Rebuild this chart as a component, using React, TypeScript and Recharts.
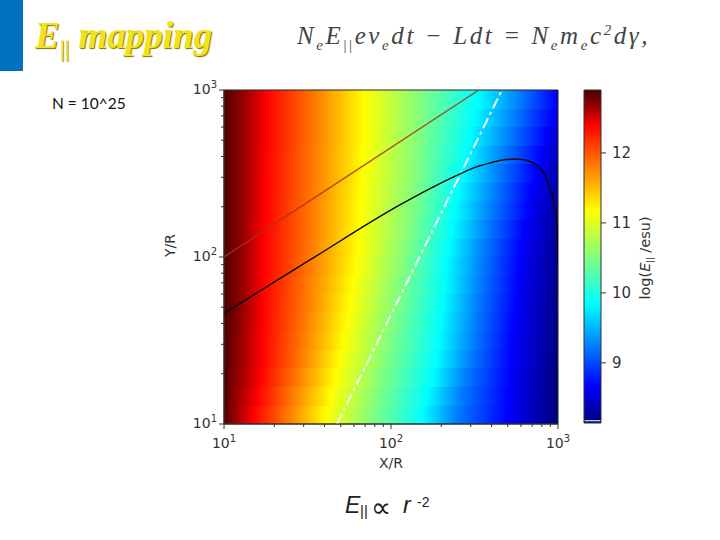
import { ComposedChart, Line, XAxis, YAxis, ReferenceArea } from "recharts"

// log-log axes of the map
const xTicks = [10, 20, 30, 40, 50, 60, 70, 80, 90, 100, 200, 300, 400, 500, 600, 700, 800, 900, 1000]
const yTicks = xTicks
const cbTicks = [9, 10, 11, 12]

// horizontal bands of the map, bottom to top (Y/R)
const bandEdges = [10, 12.9, 16.7, 21.5, 27.8, 35.9, 46.4, 59.9, 77.4, 100, 129, 167, 215, 278, 359, 464, 599, 774, 1000]

// X/R where each colour is reached in each band
const xDarkRed = [11.3, 11.5, 11.8, 12.1, 12.1, 12.3, 12.5, 12.5, 12.5, 12.5, 12.5, 12.5, 12.5, 12.5, 12.5, 12.5, 12.5, 12.5]
const xRed = [15.1, 15.8, 16.4, 16.9, 16.9, 17.1, 17.1, 17.1, 17.4, 17.4, 17.4, 17.6, 17.6, 17.8, 17.8, 18.1, 18.1, 18.1]
const xOrange = [24.9, 26.2, 28.1, 29.7, 30.5, 31.4, 32.3, 32.7, 33.7, 34.1, 34.6, 34.6, 35.1, 35.6, 35.6, 36.1, 36.1, 36.1]
const xYellow = [40.8, 43.7, 46.8, 49.5, 52.3, 54.5, 56.8, 59.2, 61.7, 63.5, 64.3, 65.2, 66.1, 68.0, 68.0, 68.9, 68.9, 68.9]
const xGreen = [78.0, 82.5, 88.3, 93.3, 98.6, 103, 109, 113, 120, 125, 130, 134, 139, 143, 145, 149, 151, 151]
const xCyan = [155, 164, 176, 186, 194, 199, 205, 211, 213, 222, 232, 242, 252, 266, 281, 297, 314, 332]
const xMidBlue = [245, 259, 277, 297, 310, 318, 327, 337, 346, 356, 376, 397, 414, 437, 469, 509, 546, 584]
const xBlue = [495, 502, 516, 524, 530, 546, 561, 576, 584, 600, 625, 661, 689, 728, 791, 859, 921, 973]
const rightEdge = ["#00007c", "#00007c", "#00007e", "#000080", "#000082", "#000084", "#000088", "#00008c", "#000090", "#000094", "#00009a", "#0000a0", "#0000a8", "#0000b0", "#0000bc", "#0000cc", "#0000dc", "#0000ec"]

const bandStops = [
  { color: "#8b0000", xs: xDarkRed },
  { color: "#ff0000", xs: xRed },
  { color: "#ff8000", xs: xOrange },
  { color: "#ffff00", xs: xYellow },
  { color: "#80ff80", xs: xGreen },
  { color: "#00ffff", xs: xCyan },
  { color: "#0080ff", xs: xMidBlue },
  { color: "#0000ff", xs: xBlue },
]

// colour bar
const cbMin = 8.14
const cbMax = 12.9
const cbValues = [8.14, 8.67, 9.25, 9.85, 10.5, 11.17, 11.8, 12.4, 12.7, 12.9]
const cbColors = ["#00007c", "#0000ff", "#0080ff", "#00ffff", "#80ff80", "#ffff00", "#ff8000", "#ff0000", "#8b0000", "#4a0000"]

// curves
const redLine = [
  { x: 10, y: 100 },
  { x: 336, y: 1000 },
]
const whiteLine = [
  { x: 47.5, y: 10 },
  { x: 462, y: 1000 },
]
const blackLine = [
  { x: 10, y: 46 },
  { x: 32.7, y: 96 },
  { x: 113, y: 205 },
  { x: 196, y: 275 },
  { x: 248, y: 308 },
  { x: 310, y: 341 },
  { x: 392, y: 366 },
  { x: 469, y: 381 },
  { x: 568, y: 386 },
  { x: 661, y: 377 },
  { x: 748, y: 354 },
  { x: 813, y: 323 },
  { x: 871, y: 281 },
  { x: 921, y: 235 },
  { x: 960, y: 191 },
  { x: 986, y: 145 },
  { x: 1000, y: 92 },
]

const tickColor = "#333"
const tickFont = "'DejaVu Sans', sans-serif"

function isDecade(v: number) {
  return Math.abs(Math.log10(v) - Math.round(Math.log10(v))) < 1e-6
}

function XTick({ x, y, payload }: any) {
  const major = isDecade(payload.value)
  return (
    <g>
      <line x1={x} x2={x} y1={y} y2={y + (major ? 5 : 3)} stroke={tickColor} />
      {major && (
        <text x={x} y={y + 24} textAnchor="middle" fontFamily={tickFont} fontSize={14} fill={tickColor}>
          10<tspan dy={-6} fontSize={10}>{Math.round(Math.log10(payload.value))}</tspan>
        </text>
      )}
    </g>
  )
}

function YTick({ x, y, payload }: any) {
  const major = isDecade(payload.value)
  return (
    <g>
      <line x1={x} x2={x - (major ? 5 : 3)} y1={y} y2={y} stroke={tickColor} />
      {major && (
        <text x={x - 7} y={y + 4} textAnchor="end" fontFamily={tickFont} fontSize={14} fill={tickColor}>
          10<tspan dy={-6} fontSize={10}>{Math.round(Math.log10(payload.value))}</tspan>
        </text>
      )}
    </g>
  )
}

function CbLabel() {
  return (
    <text transform="translate(650 258) rotate(-90)" textAnchor="middle" fontFamily={tickFont} fontSize={14.5} fill={tickColor}>
      log(<tspan fontStyle="italic">E</tspan><tspan dy={3} fontSize={8}>||</tspan><tspan dy={-3}> /esu)</tspan>
    </text>
  )
}

function offsetOf(x: number) {
  return `${((Math.log10(x) - 1) / 2) * 100}%`
}

const layer: React.CSSProperties = { position: "absolute", left: 0, top: 0 }
const note: React.CSSProperties = { position: "absolute", whiteSpace: "nowrap" }
const formula: React.CSSProperties = { ...note, fontFamily: "'Liberation Sans', sans-serif", color: "#222" }
const eqSub: React.CSSProperties = { fontSize: 15 }

export default function App() {
  return (
    <div style={{ position: "absolute", left: 0, top: 0, width: 720, height: 540, background: "#fff", overflow: "hidden" }}>
      <div style={layer}>
        <ComposedChart width={720} height={540} margin={{ top: 90, right: 162, bottom: 76, left: 164 }}>
          <defs>
            {rightEdge.map((edge, i) => (
              <linearGradient key={i} id={`band${i}`} x1="0" x2="1" y1="0" y2="0">
                <stop offset="0%" stopColor="#4f0000" />
                {bandStops.map((s) => (
                  <stop key={s.color} offset={offsetOf(s.xs[i])} stopColor={s.color} />
                ))}
                <stop offset="100%" stopColor={edge} />
              </linearGradient>
            ))}
          </defs>
          <XAxis
            type="number"
            dataKey="x"
            scale="log"
            domain={[10, 1000]}
            ticks={xTicks}
            interval={0}
            allowDataOverflow
            height={40}
            tickSize={0}
            tickMargin={0}
            tick={XTick}
            stroke={tickColor}
            label={{ value: "X/R", position: "insideBottom", offset: -4, fontFamily: tickFont, fontSize: 14, fill: tickColor }}
          />
          <YAxis
            type="number"
            dataKey="y"
            scale="log"
            domain={[10, 1000]}
            ticks={yTicks}
            interval={0}
            allowDataOverflow
            width={60}
            tickSize={0}
            tickMargin={0}
            tick={YTick}
            stroke={tickColor}
            label={{ value: "Y/R", angle: -90, position: "insideLeft", offset: 6, fontFamily: tickFont, fontSize: 14, fill: tickColor }}
          />
          {rightEdge.map((_, i) => (
            <ReferenceArea
              key={i}
              x1={10}
              x2={1000}
              y1={bandEdges[i]}
              y2={bandEdges[i + 1]}
              fill={`url(#band${i})`}
              fillOpacity={1}
              stroke="none"
              shapeRendering="crispEdges"
            />
          ))}
          <Line data={redLine} dataKey="y" stroke="#a8321c" strokeWidth={1.4} strokeOpacity={0.85} dot={false} isAnimationActive={false} />
          <Line data={whiteLine} dataKey="y" stroke="#f4f4f4" strokeWidth={2} strokeDasharray="11 4 3 4" dot={false} isAnimationActive={false} />
          <Line data={blackLine} dataKey="y" type="monotone" stroke="#0a0a0a" strokeWidth={1.4} dot={false} isAnimationActive={false} />
          <ReferenceArea x1={10} x2={1000} y1={10} y2={1000} fill="none" stroke="#222" strokeWidth={1} />
        </ComposedChart>
      </div>

      <div style={layer}>
        <ComposedChart width={720} height={540} margin={{ top: 90, right: 69, bottom: 117, left: 584 }} data={cbValues.map((v) => ({ x: 0.5, v }))}>
          <defs>
            <linearGradient id="cb" x1="0" x2="0" y1="1" y2="0">
              {cbValues.map((v, i) => (
                <stop key={v} offset={`${((v - cbMin) / (cbMax - cbMin)) * 100}%`} stopColor={cbColors[i]} />
              ))}
            </linearGradient>
          </defs>
          <XAxis type="number" dataKey="x" domain={[0, 1]} allowDataOverflow hide />
          <YAxis
            orientation="right"
            type="number"
            domain={[cbMin, cbMax]}
            allowDataOverflow
            ticks={cbTicks}
            interval={0}
            width={50}
            tickSize={5}
            tickMargin={6}
            axisLine={false}
            stroke={tickColor}
            tick={{ fontFamily: tickFont, fontSize: 15, fill: tickColor }}
            label={<CbLabel />}
          />
          <Line dataKey="v" stroke="none" dot={false} isAnimationActive={false} />
          <ReferenceArea x1={0} x2={1} y1={cbMin} y2={cbMax} fill="url(#cb)" fillOpacity={1} stroke="#333" strokeWidth={1} />
          <ReferenceArea x1={0.04} x2={0.96} y1={8.165} y2={8.18} fill="#fff" fillOpacity={1} stroke="none" />
        </ComposedChart>
      </div>

      <div style={{ position: "absolute", left: 0, top: 0, width: 23, height: 71, background: "#0070c0" }} />
      <div style={{ ...note, left: 35, top: 14, fontFamily: "'Liberation Serif', serif", fontStyle: "italic", fontWeight: 700, fontSize: 37, color: "#f2e21c", textShadow: "1px 1px 1px #7d7000" }}>
        E<sub style={{ fontSize: 24, fontStyle: "normal", fontWeight: 400 }}>||</sub> mapping
      </div>
      <div style={{ ...note, left: 297, top: 22, fontFamily: "'Liberation Serif', serif", fontStyle: "italic", fontSize: 25, letterSpacing: 2.6, color: "#444" }}>
        N<sub style={eqSub}>e</sub>E<sub style={{ ...eqSub, fontStyle: "normal" }}>||</sub>ev<sub style={eqSub}>e</sub>dt − Ldt = N<sub style={eqSub}>e</sub>m<sub style={eqSub}>e</sub>c<sup style={eqSub}>2</sup>dγ,
      </div>
      <div style={{ ...note, left: 52, top: 94, fontFamily: "Lato, sans-serif", fontSize: 15.5, color: "#111" }}>N = 10^25</div>
      <div style={{ ...formula, left: 345, top: 492, fontSize: 23, fontStyle: "italic" }}>E</div>
      <div style={{ ...formula, left: 360, top: 502, fontSize: 15 }}>||</div>
      <div style={{ ...formula, left: 371, top: 491, fontFamily: "'DejaVu Sans', sans-serif", fontSize: 28 }}>∝</div>
      <div style={{ ...formula, left: 403, top: 492, fontSize: 23, fontStyle: "italic" }}>r</div>
      <div style={{ ...formula, left: 417, top: 494, fontSize: 14 }}>-2</div>
    </div>
  )
}
